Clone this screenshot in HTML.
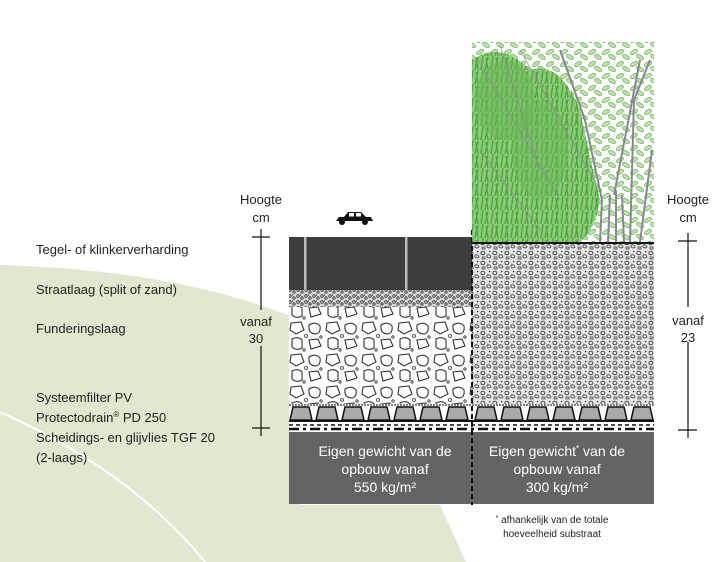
<!DOCTYPE html>
<html><head><meta charset="utf-8"><style>
html,body{margin:0;padding:0;background:#fff;}
body{width:716px;height:562px;overflow:hidden;position:relative;font-family:"Liberation Sans",sans-serif;}
</style></head><body>
<svg width="716" height="562" viewBox="0 0 716 562" xmlns="http://www.w3.org/2000/svg" style="position:absolute;left:0;top:0">
<defs>
<pattern id="fine" width="8" height="6" patternUnits="userSpaceOnUse">
<rect width="8" height="6" fill="#d8d8d8"/>
<circle cx="2" cy="2" r="1.3" fill="none" stroke="#333" stroke-width="0.8"/>
<circle cx="6" cy="4" r="1.2" fill="none" stroke="#333" stroke-width="0.8"/>
<rect x="4" y="0.5" width="1" height="1" fill="#111"/>
</pattern>
<pattern id="coarse" width="36" height="32" patternUnits="userSpaceOnUse">
<rect width="36" height="32" fill="#fff"/>
<path d="M3 3 l10 -1 l3 8 l-8 4 l-6 -4z" fill="none" stroke="#333" stroke-width="1.1"/>
<path d="M21 5 q7 -4 11 1 q1 7 -4 8 q-8 0 -7 -9z" fill="none" stroke="#333" stroke-width="1.1"/>
<path d="M4 19 q6 -3 10 1 l0 8 q-6 3 -10 -1z" fill="none" stroke="#333" stroke-width="1.1"/>
<path d="M21 20 l9 -1 l3 7 l-10 3z" fill="none" stroke="#333" stroke-width="1.1"/>
<circle cx="18" cy="16" r="1.5" fill="none" stroke="#333" stroke-width="0.8"/>
<circle cx="33" cy="17" r="1.2" fill="none" stroke="#333" stroke-width="0.8"/>
<circle cx="16" cy="30" r="1.2" fill="none" stroke="#333" stroke-width="0.8"/>
</pattern>
<pattern id="subs" width="12" height="10" patternUnits="userSpaceOnUse">
<rect width="12" height="10" fill="#e6e6e6"/>
<path d="M1 2 q3 -2 4 1 q-1 3 -4 1z" fill="none" stroke="#333" stroke-width="0.8"/>
<path d="M7 5 q3 -1 4 2 q-2 2 -4 0z" fill="none" stroke="#333" stroke-width="0.8"/>
<path d="M2 7 l3 0 l0 2 l-3 0z" fill="none" stroke="#333" stroke-width="0.7"/>
<rect x="9" y="1" width="1.2" height="1.2" fill="#111"/>
</pattern>
<pattern id="grass" width="10" height="14" patternUnits="userSpaceOnUse">
<rect width="10" height="14" fill="#8ccb7a"/>
<path d="M1 14 L3 0 M5 14 L8 1 M8 14 L6 2" stroke="#4fa63d" stroke-width="1.4"/>
</pattern>
<pattern id="leaf" width="14" height="12" patternUnits="userSpaceOnUse">
<rect width="14" height="12" fill="#fff"/>
<ellipse cx="4" cy="4" rx="4" ry="2" fill="#bfe0b2" stroke="#6db35c" stroke-width="0.7" transform="rotate(-30 4 4)"/>
<ellipse cx="10" cy="9" rx="4" ry="2" fill="#bfe0b2" stroke="#6db35c" stroke-width="0.7" transform="rotate(30 10 9)"/>
</pattern>
</defs>
<path d="M0 265 Q180 270 300 320 L300 505 L440 505 L466 562 L0 562 Z" fill="#e0e8cf"/>
<path d="M0 412 Q130 470 205 562" fill="none" stroke="#fff" stroke-width="2"/>
<rect x="289" y="237" width="183" height="53" fill="#3d3d3d"/>
<rect x="304" y="237" width="2.5" height="53" fill="#bbb"/>
<rect x="405" y="237" width="2.5" height="53" fill="#bbb"/>
<rect x="289" y="290" width="183" height="17" fill="url(#fine)"/>
<rect x="289" y="307" width="183" height="97" fill="url(#coarse)"/>
<rect x="472" y="243" width="182" height="161" fill="url(#subs)"/>
<line x1="472" y1="243" x2="654" y2="243" stroke="#111" stroke-width="2"/>
<rect x="289" y="404" width="365" height="28" fill="#fff"/>
<line x1="289" y1="405" x2="654" y2="405" stroke="#555" stroke-width="1.5" stroke-dasharray="2 1"/>
<g fill="#aaa" stroke="#111" stroke-width="1.5">
<path d="M293 407 h16 l3 13 h-22z"/><path d="M319 407 h16 l3 13 h-22z"/><path d="M345 407 h16 l3 13 h-22z"/><path d="M371 407 h16 l3 13 h-22z"/><path d="M397 407 h16 l3 13 h-22z"/><path d="M423 407 h16 l3 13 h-22z"/><path d="M449 407 h16 l3 13 h-22z"/>
<path d="M478 407 h16 l3 13 h-22z"/><path d="M504 407 h16 l3 13 h-22z"/><path d="M530 407 h16 l3 13 h-22z"/><path d="M556 407 h16 l3 13 h-22z"/><path d="M582 407 h16 l3 13 h-22z"/><path d="M608 407 h16 l3 13 h-22z"/><path d="M634 407 h16 l3 13 h-22z"/>
</g>
<line x1="289" y1="421" x2="654" y2="421" stroke="#111" stroke-width="2"/>
<line x1="289" y1="425" x2="654" y2="425" stroke="#111" stroke-width="1.5" stroke-dasharray="4 3"/>
<line x1="289" y1="429" x2="654" y2="429" stroke="#111" stroke-width="2.5" stroke-dasharray="10 4 3 4"/>
<rect x="289" y="432" width="365" height="72" fill="#646464"/>
<line x1="472" y1="230" x2="472" y2="505" stroke="#111" stroke-width="2" stroke-dasharray="5 3"/>
<!-- plants -->
<rect x="472" y="42" width="182" height="200" fill="url(#leaf)"/>
<path d="M472 242 L472 60 Q500 40 530 70 Q560 60 580 110 Q590 160 600 200 Q595 230 580 242 Z" fill="url(#grass)"/>
<ellipse cx="505" cy="100" rx="30" ry="40" fill="#6cb85a" opacity=".6"/>
<ellipse cx="540" cy="150" rx="28" ry="50" fill="#6cb85a" opacity=".5"/>
<path d="M600 242 L602 200 M608 242 L610 195 M616 242 L616 190 M624 242 L622 195 M630 242 L634 100 M640 242 L652 150 M602 200 L585 120 M614 195 L640 60 M585 120 L560 50 M634 100 L650 60" stroke="#8a8790" stroke-width="2" fill="none"/>
<path d="M478 60 L560 200 M500 45 L540 170 M480 150 L540 230 M520 50 L600 190" stroke="#8a8790" stroke-width="1" fill="none" opacity=".7"/>
<path d="M336 221 l3 -4 h5 l4 -5 h13 l5 5 h5 l2 4 z" fill="#111"/>
<circle cx="342" cy="222" r="3" fill="#111"/><circle cx="365" cy="222" r="3" fill="#111"/>
<rect x="349" y="213" width="5" height="3.5" fill="#fff"/><rect x="356" y="213" width="5" height="3.5" fill="#fff"/>
<g stroke="#111" stroke-width="1.2">
<line x1="261" y1="229" x2="261" y2="310"/><line x1="261" y1="346" x2="261" y2="436"/>
<line x1="252" y1="237" x2="270" y2="237"/><line x1="252" y1="428" x2="270" y2="428"/>
<line x1="688" y1="233" x2="688" y2="307"/><line x1="688" y1="342" x2="688" y2="438"/>
<line x1="678" y1="241" x2="697" y2="241"/><line x1="678" y1="430" x2="697" y2="430"/>
</g>
<g font-family="Liberation Sans, sans-serif" font-size="13" fill="#222">
<text x="261" y="204" text-anchor="middle">Hoogte</text><text x="261" y="222" text-anchor="middle">cm</text>
<text x="256" y="326" text-anchor="middle">vanaf</text><text x="256" y="343" text-anchor="middle">30</text>
<text x="688" y="204" text-anchor="middle">Hoogte</text><text x="688" y="222" text-anchor="middle">cm</text>
<text x="688" y="325" text-anchor="middle">vanaf</text><text x="688" y="342" text-anchor="middle">23</text>
<text x="36" y="254">Tegel- of klinkerverharding</text>
<text x="36" y="294">Straatlaag (split of zand)</text>
<text x="36" y="333">Funderingslaag</text>
<text x="36" y="402">Systeemfilter PV</text>
<text x="36" y="422">Protectodrain<tspan font-size="8" dy="-5">®</tspan><tspan dy="5"> PD 250</tspan></text>
<text x="36" y="442">Scheidings- en glijvlies TGF 20</text>
<text x="36" y="462">(2-laags)</text>
</g>
<g font-family="Liberation Sans, sans-serif" font-size="14" fill="#fff" text-anchor="middle">
<text x="385" y="456">Eigen gewicht van de</text>
<text x="385" y="474">opbouw vanaf</text>
<text x="385" y="492">550 kg/m²</text>
<text x="557" y="456">Eigen gewicht<tspan font-size="8" dy="-5">*</tspan><tspan dy="5"> van de</tspan></text>
<text x="557" y="474">opbouw vanaf</text>
<text x="557" y="492">300 kg/m²</text>
</g>
<g font-family="Liberation Sans, sans-serif" font-size="10" fill="#222" text-anchor="middle">
<text x="552" y="523"><tspan font-size="7" dy="-3">*</tspan><tspan dy="3"> afhankelijk van de totale</tspan></text>
<text x="552" y="537">hoeveelheid substraat</text>
</g>
</svg>
</body></html>
